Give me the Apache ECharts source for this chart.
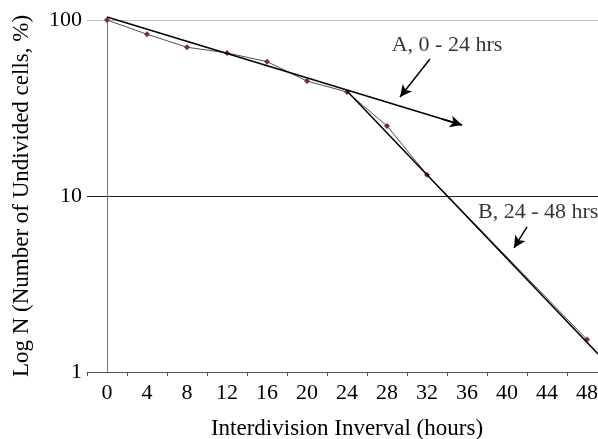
<!DOCTYPE html>
<html>
<head>
<meta charset="utf-8">
<style>
  html, body { margin: 0; padding: 0; background: #fff; }
  #chart { width: 598px; height: 439px; }
</style>
<script src="https://cdn.jsdelivr.net/npm/echarts@6/dist/echarts.min.js"></script>
</head>
<body>
<div id="chart"></div>
<script>
// Interdivision interval categories (hours)
const hours = ['0', '4', '8', '12', '16', '20', '24', '28', '32', '36', '40', '44', '48'];
// Undivided cells (%) at each interval; no measurement at 36-44 h
const undivided = [100, 83, 70, 65, 58, 45, 39, 25, 13.2, null, null, null, 1.53];
// Fitted log-linear phases: [hour, percent] end points
const trendA = [[0, 104], [35.5, 25.3]];
const trendB = [[24, 39.5], [50, 1.12]];
// Annotation text anchors and pointer arrows: [hour, percent]
const labelA = [34, 72];
const arrowA = [[32.3, 60], [29.3, 36.5]];
const labelB = [37.1, 8.1];
const arrowB = [[42, 6.67], [40.7, 5.07]];

const serif = '"Liberation Serif", "Times New Roman", serif';
const chart = echarts.init(document.getElementById('chart'), null, { renderer: 'canvas' });

const arrowLine = (pts) => [{ coord: pts[0] }, { coord: pts[1] }];

// short final piece of phase A, carrying its arrowhead
const logAt = (pts, h) => {
  const [[h0, v0], [h1, v1]] = pts;
  const t = (h - h0) / (h1 - h0);
  return Math.pow(10, Math.log10(v0) + t * (Math.log10(v1) - Math.log10(v0)));
};
const headA = [[trendA[1][0] - 2, logAt(trendA, trendA[1][0] - 2)], trendA[1]];

chart.setOption({
  animation: false,
  backgroundColor: '#fff',
  grid: { left: 87, top: 20, width: 520, height: 352, containLabel: false, outerBoundsMode: 'none' },
  xAxis: [
    {
      type: 'category',
      data: hours,
      boundaryGap: true,
      axisLine: { lineStyle: { color: '#555', width: 1 } },
      axisTick: { show: true, length: 4, lineStyle: { color: '#555' } },
      axisLabel: { color: '#000', fontFamily: serif, fontSize: 22, margin: 10 },
      splitLine: { show: false },
      name: 'Interdivision Inverval (hours)',
      nameLocation: 'middle',
      nameGap: 45,
      nameTextStyle: { color: '#000', fontFamily: serif, fontSize: 23 }
    },
    {
      // hidden continuous hour scale for the fitted lines and annotations
      type: 'value', min: -2, max: 50, show: false
    }
  ],
  yAxis: {
    type: 'log',
    logBase: 10,
    min: 1,
    max: 100,
    axisLine: { show: true, lineStyle: { color: '#777', width: 1 } },
    axisTick: { show: false },
    axisLabel: { color: '#000', fontFamily: serif, fontSize: 22, margin: 5 },
    splitLine: { show: true, lineStyle: { color: ['#555', '#222', '#c9bcbc'], width: 1 } },
    minorTick: { show: false },
    name: 'Log N (Number of Undivided cells, %)',
    nameLocation: 'middle',
    nameRotate: 90,
    nameGap: 54,
    nameTextStyle: { color: '#000', fontFamily: serif, fontSize: 23 }
  },
  series: [
    {
      name: 'measured',
      type: 'line',
      xAxisIndex: 0,
      data: undivided,
      connectNulls: true,
      symbol: 'diamond',
      symbolSize: 6,
      itemStyle: { color: '#7a2848' },
      lineStyle: { color: '#5a4a50', width: 1 },
      z: 3
    },
    {
      name: 'phase A',
      type: 'line',
      xAxisIndex: 1,
      data: trendA,
      clip: false,
      symbol: 'none',
      lineStyle: { color: '#000', width: 1.5 },
      z: 4
    },
    {
      name: 'phase B',
      type: 'line',
      xAxisIndex: 1,
      data: trendB,
      symbol: 'none',
      lineStyle: { color: '#000', width: 1.5 },
      z: 4
    },
    {
      name: 'pointers',
      type: 'line',
      xAxisIndex: 1,
      data: [],
      symbol: 'none',
      z: 4,
      markLine: {
        silent: true,
        symbol: ['none', 'arrow'],
        symbolSize: [9, 12],
        label: { show: false },
        lineStyle: { color: '#000', width: 1.5, type: 'solid' },
        data: [arrowLine(headA), arrowLine(arrowA), arrowLine(arrowB)]
      }
    },
    {
      name: 'notes',
      type: 'scatter',
      xAxisIndex: 1,
      symbolSize: 0,
      silent: true,
      data: [
        { value: labelA, label: { formatter: 'A, 0 - 24 hrs', align: 'center' } },
        { value: labelB, label: { formatter: 'B, 24 - 48 hrs', align: 'left' } }
      ],
      label: {
        show: true,
        position: 'inside',
        color: '#000',
        fontFamily: serif,
        fontSize: 22,
        verticalAlign: 'middle'
      },
      z: 5
    }
  ]
});
</script>
</body>
</html>
